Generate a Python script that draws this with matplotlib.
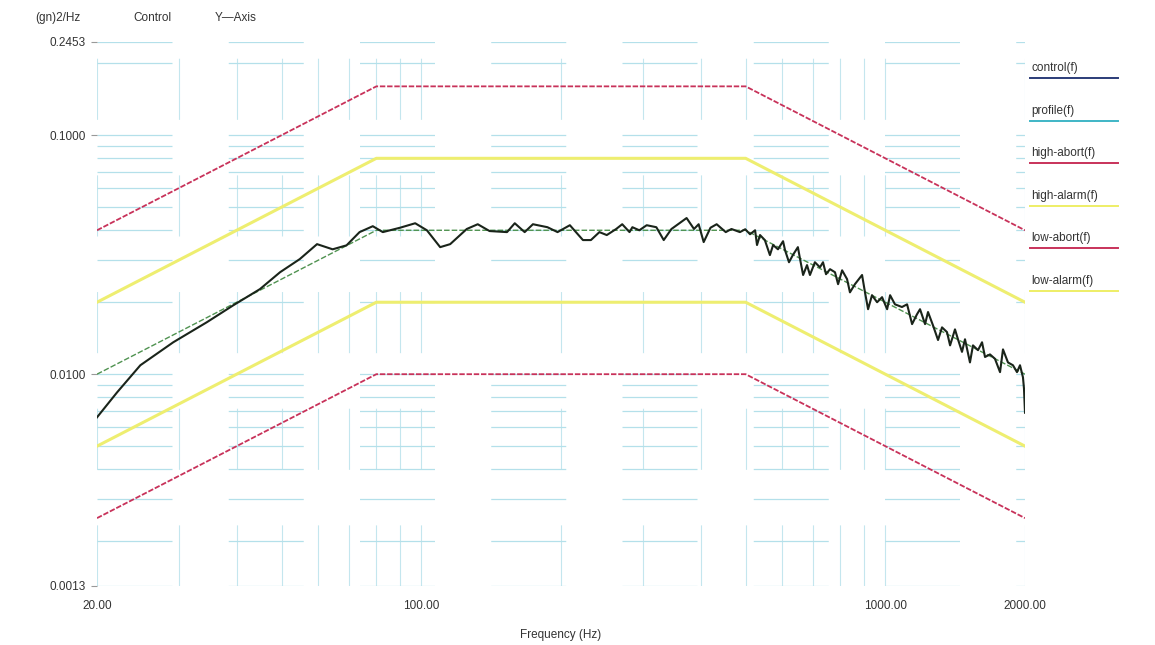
import matplotlib
matplotlib.use("Agg")
import matplotlib.pyplot as plt
from matplotlib.ticker import FixedLocator, LogLocator, NullFormatter

# breakpoints of the test profile and its limit lines
bp_freq = [20, 80, 500, 2000]
profile = [0.01, 0.04, 0.04, 0.01]
high_abort = [0.04, 0.16, 0.16, 0.04]
high_alarm = [0.02, 0.08, 0.08, 0.02]
low_alarm = [0.005, 0.02, 0.02, 0.005]
low_abort = [0.0025, 0.01, 0.01, 0.0025]

ctrl_freq = [20, 22.1, 24.8, 29.2, 34.5, 39.3, 44.9, 49.6, 54.7, 59.6,
             64.4, 69, 73.6, 78.6, 82.6, 90, 97, 102.8, 109.8, 115.4,
             125.3, 132.3, 140.3, 153, 159, 167, 174, 187, 196.6, 209,
             223, 232, 242, 251, 263, 271, 281, 285, 295, 306,
             321, 333, 346, 373, 387, 396, 406, 420, 433, 453,
             466, 486, 499, 511, 524, 529, 537, 550, 564, 573,
             587, 602, 608, 620, 632, 648, 655, 665, 678, 688,
             705, 723, 734, 745, 760, 779, 791, 807, 827, 839,
             860, 891, 904, 918, 936, 960, 984, 1009, 1024, 1049,
             1086, 1114, 1142, 1170, 1188, 1218, 1236, 1267, 1299, 1325,
             1358, 1379, 1413, 1434, 1463, 1485, 1522, 1545, 1584, 1616,
             1640, 1681, 1723, 1767, 1793, 1838, 1884, 1922, 1951, 1980,
             1990, 2000]
ctrl_psd = [0.0066, 0.0084, 0.0109, 0.0136, 0.0165, 0.0194, 0.0227, 0.0267, 0.0303, 0.035,
            0.0333, 0.0346, 0.0393, 0.0416, 0.0393, 0.041, 0.0428, 0.040, 0.034, 0.035,
            0.0405, 0.0424, 0.0397, 0.0393, 0.0428, 0.0393, 0.0424, 0.0412, 0.0393, 0.042,
            0.0364, 0.0364, 0.0393, 0.0382, 0.0405, 0.0424, 0.0393, 0.0412, 0.040, 0.042,
            0.0412, 0.0364, 0.0405, 0.045, 0.0405, 0.0424, 0.0357, 0.041, 0.0424, 0.0393,
            0.0405, 0.0393, 0.0404, 0.0385, 0.0400, 0.0347, 0.0382, 0.0364, 0.0315, 0.0347,
            0.0333, 0.0360, 0.0330, 0.0294, 0.0315, 0.0340, 0.0303, 0.0260, 0.0286, 0.0260,
            0.0294, 0.0280, 0.0294, 0.0262, 0.0275, 0.0267, 0.0238, 0.0272, 0.0250, 0.0220,
            0.0238, 0.0260, 0.0220, 0.0187, 0.0214, 0.0200, 0.0210, 0.0187, 0.0214, 0.0196,
            0.0191, 0.0196, 0.0162, 0.0178, 0.0187, 0.0162, 0.0182, 0.0160, 0.0139, 0.0157,
            0.0150, 0.0132, 0.0154, 0.0140, 0.0124, 0.0140, 0.0112, 0.0132, 0.0126, 0.0136,
            0.0118, 0.0121, 0.0116, 0.0102, 0.0127, 0.0112, 0.0109, 0.0102, 0.0109, 0.0097,
            0.0087, 0.0069]

x_ticks = [20, 100, 1000, 2000]
x_ticklabels = ['20.00', '100.00', '1000.00', '2000.00']
y_ticks = [0.0013, 0.01, 0.1, 0.2453]
y_ticklabels = ['0.0013', '0.0100', '0.1000', '0.2453']

legend_names = ['control(f)', 'profile(f)', 'high-abort(f)', 'high-alarm(f)', 'low-abort(f)', 'low-alarm(f)']
legend_colors = ['#2b3c78', '#3fb6c6', '#c8325a', '#eeee66', '#c8325a', '#eeee66']

plt.rcParams['font.family'] = ['Liberation Sans', 'DejaVu Sans']
fig = plt.figure(figsize=(11.55, 6.45), dpi=100)
ax = fig.add_axes([97 / 1155, 1 - 586 / 645, (1025 - 97) / 1155, (586 - 42) / 645])
ax.set_xscale('log')
ax.set_yscale('log')
ax.set_xlim(20, 2000)
ax.set_ylim(0.0013, 0.2453)

# faded, broken grid like the scanned original
ax.xaxis.set_minor_locator(LogLocator(base=10, subs=range(2, 10)))
ax.yaxis.set_minor_locator(LogLocator(base=10, subs=range(2, 10)))
ax.xaxis.set_minor_formatter(NullFormatter())
ax.yaxis.set_minor_formatter(NullFormatter())
ax.grid(True, which='both', axis='y', color='#b4e0ea', linewidth=0.9, linestyle=(0, (60, 45)))
ax.grid(True, which='both', axis='x', color='#c4e6ee', linewidth=0.8, linestyle=(0, (55, 50)))
ax.tick_params(which='minor', length=0)

ax.plot(bp_freq, high_abort, color='#c8325a', linewidth=1.3, linestyle=(0, (3, 1)))
ax.plot(bp_freq, low_abort, color='#c8325a', linewidth=1.3, linestyle=(0, (3, 1)))
ax.plot(bp_freq, high_alarm, color='#eeee70', linewidth=2.2)
ax.plot(bp_freq, low_alarm, color='#eeee70', linewidth=2.2)
ax.plot(bp_freq, profile, color='#4f9250', linewidth=1.0, linestyle=(0, (4, 1.5)))
ax.plot(ctrl_freq, ctrl_psd, color='#1a241a', linewidth=1.5)

for s in ax.spines.values():
    s.set_visible(False)

ax.xaxis.set_major_locator(FixedLocator(x_ticks))
ax.set_xticklabels(x_ticklabels)
ax.yaxis.set_major_locator(FixedLocator(y_ticks))
ax.set_yticklabels(y_ticklabels)
ax.tick_params(axis='x', which='major', length=0, pad=10, labelsize=8.5, labelcolor='#333333')
ax.tick_params(axis='y', which='major', length=4, color='#999999', pad=4, labelsize=8.5, labelcolor='#333333')
ax.set_xlabel('Frequency (Hz)', fontsize=8.5, color='#333333', labelpad=12)

fig.text(35 / 1155, 1 - 18 / 645, '(gn)2/Hz', fontsize=8.5, color='#333333', va='center')
fig.text(133 / 1155, 1 - 18 / 645, 'Control', fontsize=8.5, color='#333333', va='center')
fig.text(215 / 1155, 1 - 18 / 645, 'Y\u2014Axis', fontsize=8.5, color='#333333', va='center')

# legend: names with a coloured underline
for i in range(len(legend_names)):
    ypix = 68 + i * 42.6
    fig.text(1031 / 1155, 1 - ypix / 645, legend_names[i], fontsize=8.5, color='#333333', va='center')
    fig.add_artist(plt.Line2D([1030 / 1155, 1118 / 1155], [1 - (ypix + 10) / 645] * 2,
                              color=legend_colors[i], linewidth=1.4, transform=fig.transFigure))

fig.savefig('out.png', dpi=100)
